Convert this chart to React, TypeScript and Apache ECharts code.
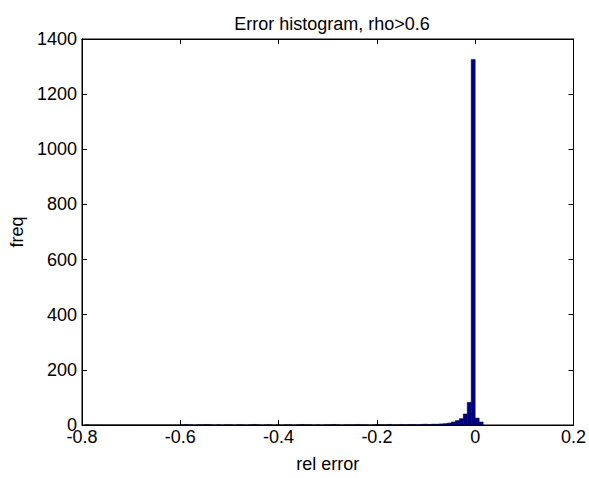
import React, { useEffect, useRef } from "react";
import * as echarts from "echarts";

const binStart = -0.7938;
const binWidth = 0.0081;
// 100 bin counts (hist of relative error)
const counts: number[] = [
  1, 0, 0, 0, 0, 0, 0, 0, 0, 0,
  0, 0, 0, 0, 0, 0, 0, 0, 0, 0,
  0, 0, 0, 0, 1, 2, 1, 0, 1, 1,
  2, 1, 0, 1, 0, 1, 1, 0, 1, 1,
  0, 1, 2, 1, 0, 1, 1, 0, 1, 0,
  1, 1, 0, 1, 2, 1, 1, 0, 1, 0,
  1, 1, 2, 1, 0, 1, 1, 1, 2, 1,
  1, 0, 1, 2, 1, 1, 2, 1, 1, 2,
  1, 2, 2, 1, 2, 3, 2, 3, 3, 4,
  5, 7, 11, 16, 23, 40, 82, 1326, 25, 11,
];
const xTicks = [-0.8, -0.6, -0.4, -0.2, 0, 0.2];
const yTicks = [0, 200, 400, 600, 800, 1000, 1200, 1400];

const FONT = "Liberation Sans, Arial, sans-serif";
const FS = 18;

export default function App() {
  const ref = useRef<HTMLDivElement>(null);
  useEffect(() => {
    if (!ref.current) return;
    const chart = echarts.init(ref.current, null, { renderer: "svg" });
    const data = counts.map((c, i) => [binStart + i * binWidth, binStart + (i + 1) * binWidth, c]);
    const fmtX = (v: number) => {
      const r = Math.round(v * 10) / 10;
      return r === 0 ? "0" : String(r);
    };
    const fmtY = (v: number) => String(Math.round(v));
    const axisCommon = {
      axisLine: { show: true, onZero: false, lineStyle: { color: "#000", width: 1 } },
      axisTick: { show: true, inside: true, length: 5, lineStyle: { color: "#000" } },
      splitLine: { show: false },
    };
    chart.setOption({
      animation: false,
      backgroundColor: "#fff",
      textStyle: { fontFamily: FONT },
      title: {
        text: "Error histogram, rho>0.6",
        left: 327,
        textAlign: "center",
        top: 10,
        textStyle: { fontFamily: FONT, fontSize: FS, fontWeight: "normal", color: "#000" },
      },
      grid: { left: 82, right: 15, top: 39, bottom: 53, show: true, borderColor: "#000", borderWidth: 1, backgroundColor: "transparent" },
      xAxis: [
        {
          type: "value",
          min: xTicks[0],
          max: xTicks[xTicks.length - 1],
          interval: 0.2,
          position: "bottom",
          name: "rel error",
          nameLocation: "middle",
          nameGap: 30,
          nameTextStyle: { fontFamily: FONT, fontSize: FS, color: "#000" },
          axisLabel: { formatter: fmtX, fontFamily: FONT, fontSize: FS, color: "#000", margin: 3 },
          ...axisCommon,
        },
        {
          type: "value",
          min: xTicks[0],
          max: xTicks[xTicks.length - 1],
          interval: 0.2,
          position: "top",
          axisLabel: { show: false },
          ...axisCommon,
        },
      ],
      yAxis: [
        {
          type: "value",
          min: yTicks[0],
          max: yTicks[yTicks.length - 1],
          interval: 200,
          position: "left",
          name: "freq",
          nameLocation: "middle",
          nameGap: 56,
          nameTextStyle: { fontFamily: FONT, fontSize: FS, color: "#000" },
          axisLabel: { formatter: fmtY, fontFamily: FONT, fontSize: FS, color: "#000", margin: 5 },
          ...axisCommon,
        },
        {
          type: "value",
          min: yTicks[0],
          max: yTicks[yTicks.length - 1],
          interval: 200,
          position: "right",
          axisLabel: { show: false },
          ...axisCommon,
        },
      ],
      series: [
        {
          type: "custom",
          xAxisIndex: 0,
          yAxisIndex: 0,
          data,
          encode: { x: [0, 1], y: 2 },
          renderItem: (params: any, api: any) => {
            const x0 = api.value(0);
            const x1 = api.value(1);
            const c = api.value(2);
            const p0 = api.coord([x0, c]);
            const p1 = api.coord([x1, 0]);
            return {
              type: "rect",
              shape: { x: p0[0], y: p0[1], width: p1[0] - p0[0], height: p1[1] - p0[1] },
              style: { fill: "#00008f", stroke: "#000", lineWidth: 0.5 },
            };
          },
        },
      ],
    });
    return () => chart.dispose();
  }, []);
  return (
    <div
      ref={ref}
      style={{ position: "absolute", left: 0, top: 0, width: 589, height: 478, background: "#fff" }}
    />
  );
}
